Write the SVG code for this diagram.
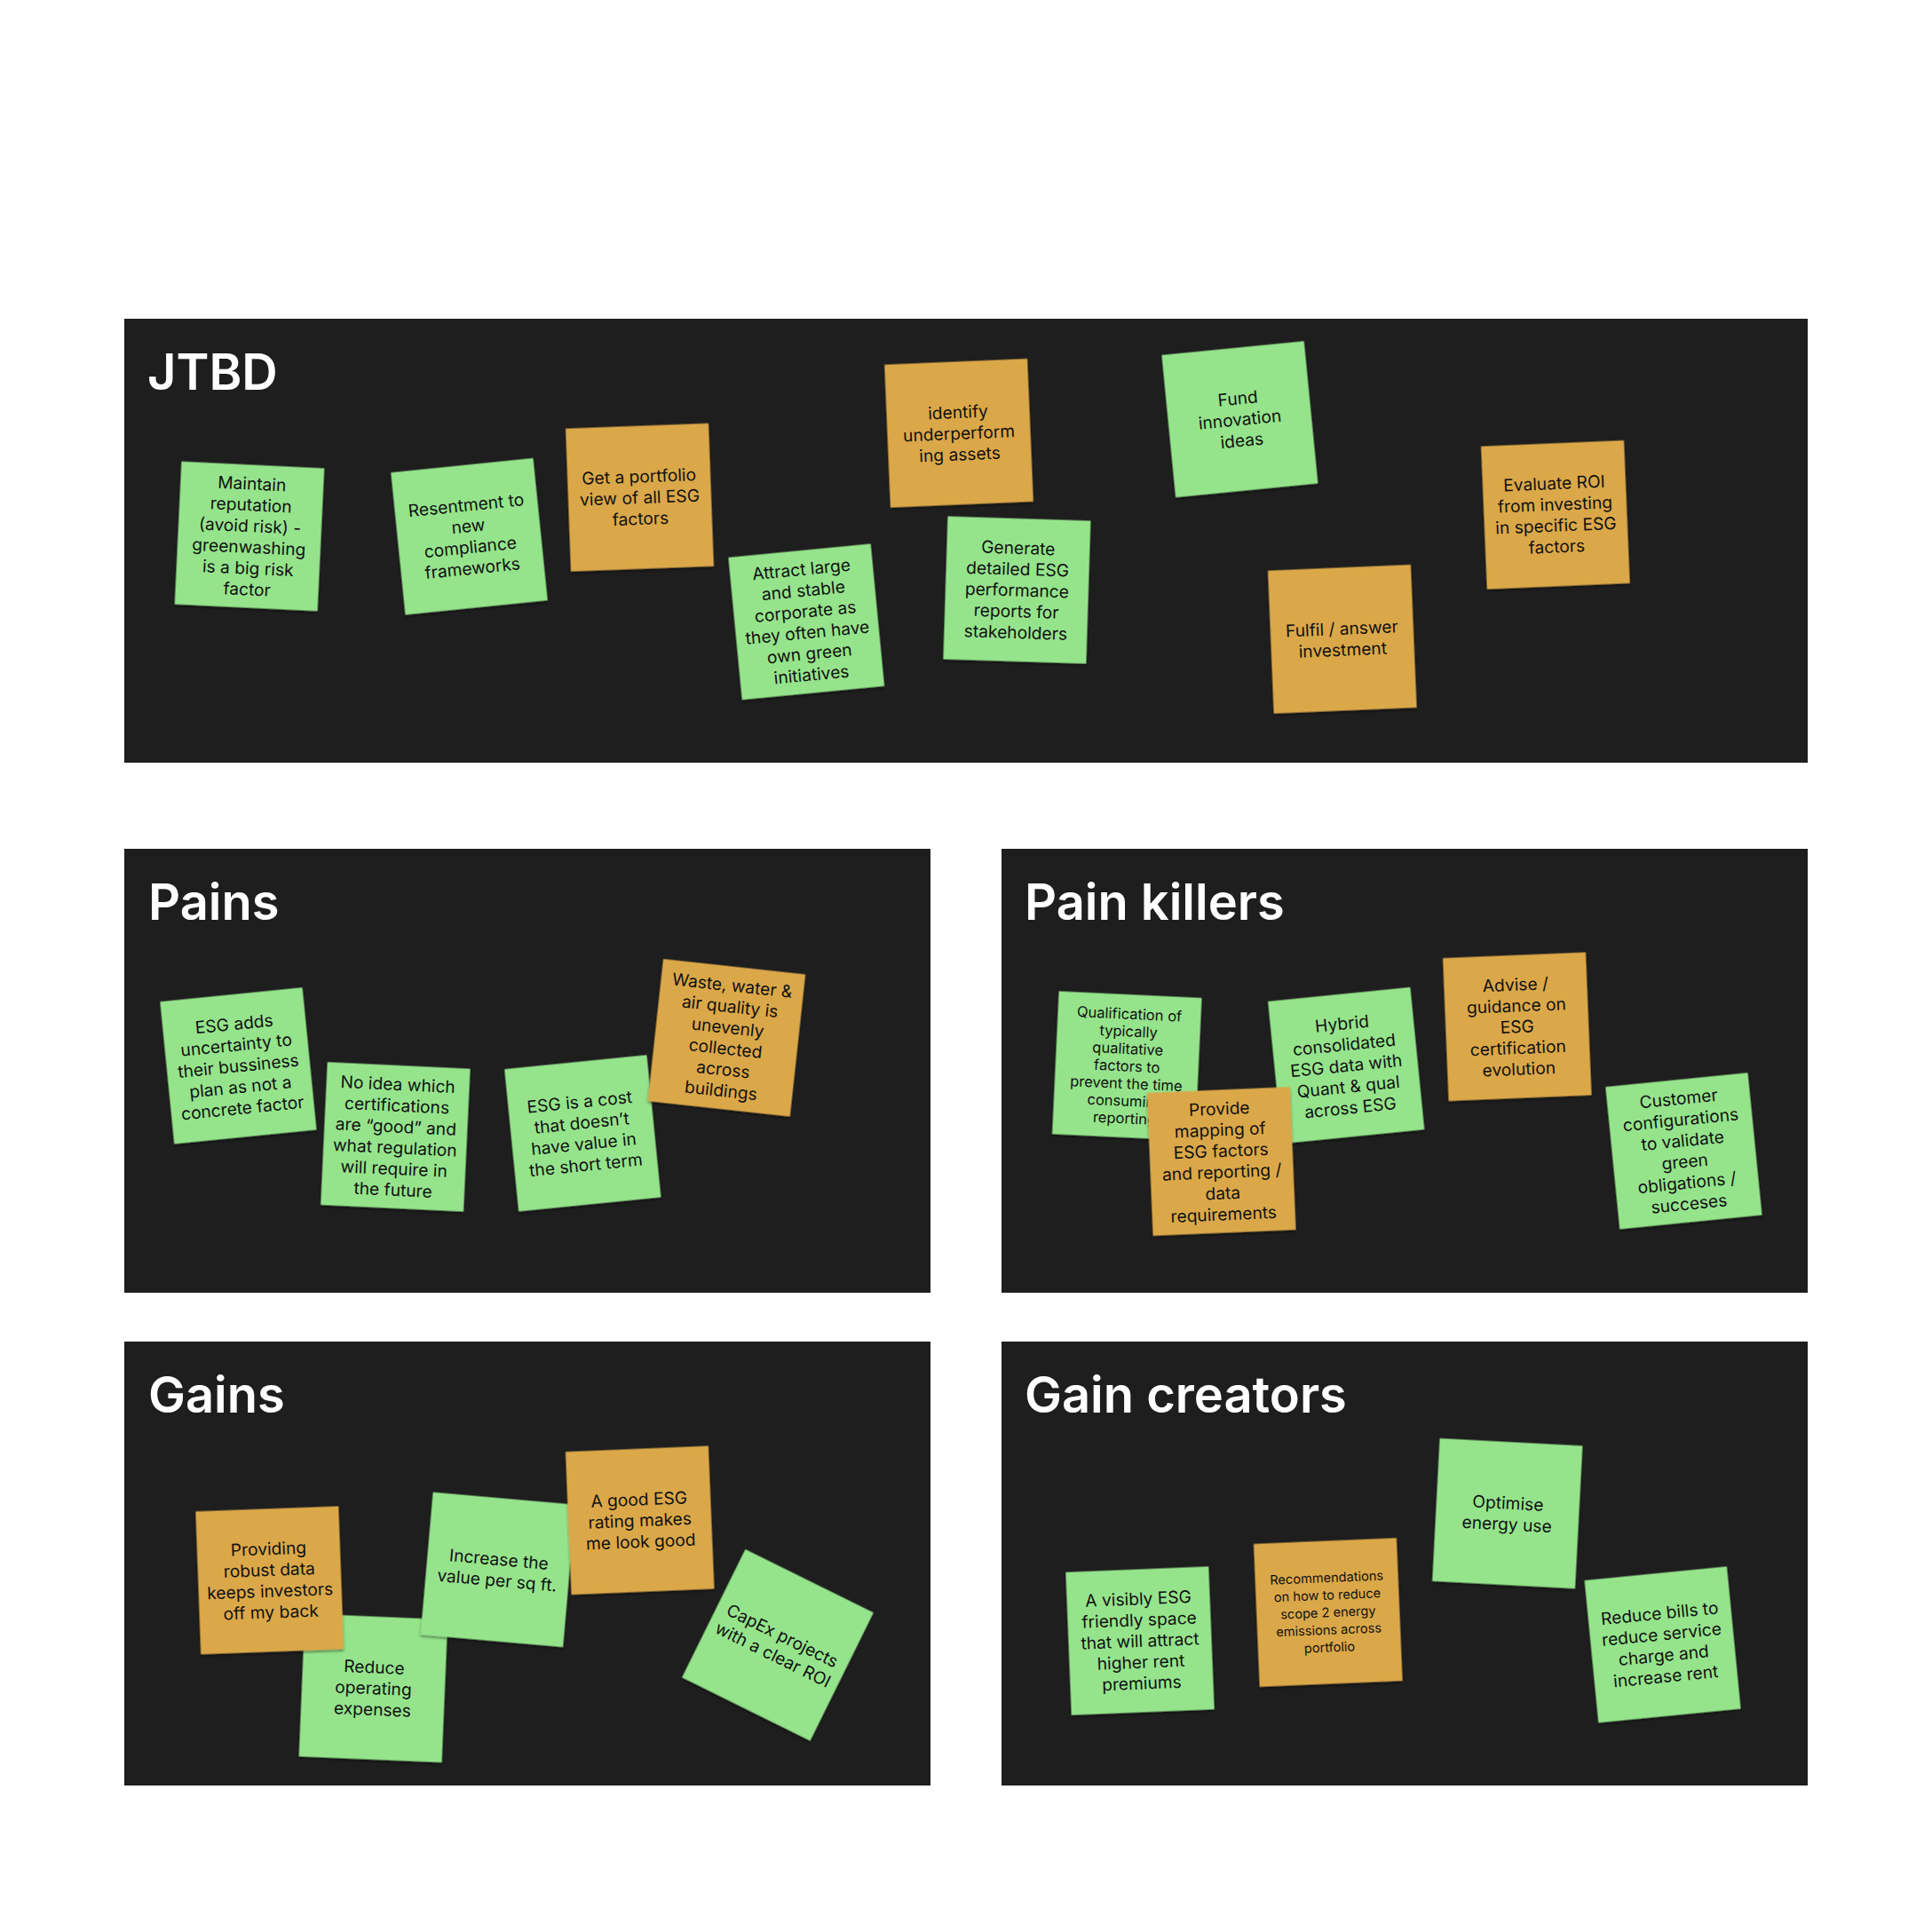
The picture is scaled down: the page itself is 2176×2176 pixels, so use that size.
<svg xmlns="http://www.w3.org/2000/svg" width="2176" height="2176" viewBox="0 0 2176 2176">
<defs>
<style>
.bg{fill:#ffffff}
.panel{fill:#1e1e1e}
.title{font-family:Inter,"Liberation Sans",sans-serif;font-weight:600;font-size:56px;fill:#ffffff}
.g{fill:#95e48c}
.o{fill:#dba84a}
.note rect{filter:url(#sh)}
.t{font-family:Inter,"Liberation Sans",sans-serif;font-size:19.2px;fill:#111111;text-anchor:middle}
.sm{font-size:16.5px}
.xs{font-size:14.6px}
</style>
<filter id="sh" x="-10%" y="-10%" width="120%" height="125%">
<feDropShadow dx="0" dy="2" stdDeviation="1.5" flood-color="#000000" flood-opacity="0.45"/>
</filter>
</defs>
<rect class="bg" x="0" y="0" width="2176" height="2176"/>

<g id="panel-jtbd"><rect class="panel" x="140" y="359" width="1896" height="500"/><text class="title" x="166" y="439">JTBD</text></g>
<g id="panel-pains"><rect class="panel" x="140" y="956" width="908" height="500"/><text class="title" x="167" y="1036">Pains</text></g>
<g id="panel-painkillers"><rect class="panel" x="1128" y="956" width="908" height="500"/><text class="title" x="1154" y="1036">Pain killers</text></g>
<g id="panel-gains"><rect class="panel" x="140" y="1511" width="908" height="500"/><text class="title" x="167" y="1591">Gains</text></g>
<g id="panel-gaincreators"><rect class="panel" x="1128" y="1511" width="908" height="500"/><text class="title" x="1154" y="1591">Gain creators</text></g>

<g id="connectors"></g>

<!-- JTBD -->
<g id="note-maintain" class="note" transform="translate(281,604) rotate(2.75)"><rect class="g" x="-80.5" y="-80.5" width="161" height="161"/><text class="t"><tspan x="0" y="-52.5">Maintain</tspan><tspan x="0" y="-28.7">reputation</tspan><tspan x="0" y="-4.9">(avoid risk) -</tspan><tspan x="0" y="18.9">greenwashing</tspan><tspan x="0" y="42.7">is a big risk</tspan><tspan x="0" y="66.5">factor</tspan></text></g>
<g id="note-resentment" class="note" transform="translate(528.5,604.2) rotate(-5.8)"><rect class="g" x="-80.5" y="-80.5" width="161" height="161"/><text class="t"><tspan x="0" y="-28.7">Resentment to</tspan><tspan x="0" y="-4.9">new</tspan><tspan x="0" y="18.9">compliance</tspan><tspan x="0" y="42.7">frameworks</tspan></text></g>
<g id="note-portfolio" class="note" transform="translate(720.5,560.2) rotate(-2.1)"><rect class="o" x="-80.5" y="-80.5" width="161" height="161"/><text class="t"><tspan x="0" y="-16.8">Get a portfolio</tspan><tspan x="0" y="7">view of all ESG</tspan><tspan x="0" y="30.8">factors</tspan></text></g>
<g id="note-identify" class="note" transform="translate(1080,487.8) rotate(-2.4)"><rect class="o" x="-80.5" y="-80.5" width="161" height="161"/><text class="t"><tspan x="0" y="-16.8">identify</tspan><tspan x="0" y="7">underperform</tspan><tspan x="0" y="30.8">ing assets</tspan></text></g>
<g id="note-fund" class="note" transform="translate(1396.4,472.2) rotate(-5.6)"><rect class="g" x="-80.5" y="-80.5" width="161" height="161"/><text class="t"><tspan x="0" y="-16.8">Fund</tspan><tspan x="0" y="7">innovation</tspan><tspan x="0" y="30.8">ideas</tspan></text></g>
<g id="note-attract" class="note" transform="translate(908.2,700.3) rotate(-5.5)"><rect class="g" x="-80.5" y="-80.5" width="161" height="161"/><text class="t"><tspan x="0" y="-52.5">Attract large</tspan><tspan x="0" y="-28.7">and stable</tspan><tspan x="0" y="-4.9">corporate as</tspan><tspan x="0" y="18.9">they often have</tspan><tspan x="0" y="42.7">own green</tspan><tspan x="0" y="66.5">initiatives</tspan></text></g>
<g id="note-generate" class="note" transform="translate(1145.4,664.5) rotate(1.8)"><rect class="g" x="-80.5" y="-80.5" width="161" height="161"/><text class="t"><tspan x="0" y="-40.6">Generate</tspan><tspan x="0" y="-16.8">detailed ESG</tspan><tspan x="0" y="7">performance</tspan><tspan x="0" y="30.8">reports for</tspan><tspan x="0" y="54.6">stakeholders</tspan></text></g>
<g id="note-evaluate" class="note" transform="translate(1751.9,579.8) rotate(-2.4)"><rect class="o" x="-80.5" y="-80.5" width="161" height="161"/><text class="t"><tspan x="0" y="-28.7">Evaluate ROI</tspan><tspan x="0" y="-4.9">from investing</tspan><tspan x="0" y="18.9">in specific ESG</tspan><tspan x="0" y="42.7">factors</tspan></text></g>
<g id="note-fulfil" class="note" transform="translate(1511.8,719.8) rotate(-2.4)"><rect class="o" x="-80.5" y="-80.5" width="161" height="161"/><text class="t"><tspan x="0" y="-4.9">Fulfil / answer</tspan><tspan x="0" y="18.9">investment</tspan></text></g>

<!-- Pains -->
<g id="note-esg-adds" class="note" transform="translate(268.4,1200.3) rotate(-5.7)"><rect class="g" x="-80.5" y="-80.5" width="161" height="161"/><text class="t"><tspan x="0" y="-40.6">ESG adds</tspan><tspan x="0" y="-16.8">uncertainty to</tspan><tspan x="0" y="7">their bussiness</tspan><tspan x="0" y="30.8">plan as not a</tspan><tspan x="0" y="54.6">concrete factor</tspan></text></g>
<g id="note-no-idea" class="note" transform="translate(445.4,1280.4) rotate(2.7)"><rect class="g" x="-80.5" y="-80.5" width="161" height="161"/><text class="t"><tspan x="0" y="-52.5">No idea which</tspan><tspan x="0" y="-28.7">certifications</tspan><tspan x="0" y="-4.9">are “good” and</tspan><tspan x="0" y="18.9">what regulation</tspan><tspan x="0" y="42.7">will require in</tspan><tspan x="0" y="66.5">the future</tspan></text></g>
<g id="note-cost" class="note" transform="translate(656.3,1276.3) rotate(-5.7)"><rect class="g" x="-80.5" y="-80.5" width="161" height="161"/><text class="t"><tspan x="0" y="-28.7">ESG is a cost</tspan><tspan x="0" y="-4.9">that doesn’t</tspan><tspan x="0" y="18.9">have value in</tspan><tspan x="0" y="42.7">the short term</tspan></text></g>
<g id="note-waste" class="note" transform="translate(818.4,1168.8) rotate(6.2)"><rect class="o" x="-80.5" y="-80.5" width="161" height="161"/><text class="t"><tspan x="0" y="-52.5">Waste, water &amp;</tspan><tspan x="0" y="-28.7">air quality is</tspan><tspan x="0" y="-4.9">unevenly</tspan><tspan x="0" y="18.9">collected</tspan><tspan x="0" y="42.7">across</tspan><tspan x="0" y="66.5">buildings</tspan></text></g>

<!-- Pain killers -->
<g id="note-qualification" class="note" transform="translate(1269.3,1200.6) rotate(2.7)"><rect class="g" x="-80.5" y="-80.5" width="161" height="161"/><text class="t sm"><tspan x="0" y="-52.8">Qualification of</tspan><tspan x="0" y="-33.2">typically</tspan><tspan x="0" y="-13.6">qualitative</tspan><tspan x="0" y="6">factors to</tspan><tspan x="0" y="25.6">prevent the time</tspan><tspan x="0" y="45.2">consuming</tspan><tspan x="0" y="64.8">reporting</tspan></text></g>
<g id="note-hybrid" class="note" transform="translate(1516.2,1200) rotate(-5.7)"><rect class="g" x="-80.5" y="-80.5" width="161" height="161"/><text class="t"><tspan x="0" y="-40.6">Hybrid</tspan><tspan x="0" y="-16.8">consolidated</tspan><tspan x="0" y="7">ESG data with</tspan><tspan x="0" y="30.8">Quant &amp; qual</tspan><tspan x="0" y="54.6">across ESG</tspan></text></g>
<g id="note-mapping" class="note" transform="translate(1375.7,1308) rotate(-2.4)"><rect class="o" x="-80.5" y="-80.5" width="161" height="161"/><text class="t"><tspan x="0" y="-52.5">Provide</tspan><tspan x="0" y="-28.7">mapping of</tspan><tspan x="0" y="-4.9">ESG factors</tspan><tspan x="0" y="18.9">and reporting /</tspan><tspan x="0" y="42.7">data</tspan><tspan x="0" y="66.5">requirements</tspan></text></g>
<g id="note-advise" class="note" transform="translate(1708.8,1156.3) rotate(-2.35)"><rect class="o" x="-80.5" y="-80.5" width="161" height="161"/><text class="t"><tspan x="0" y="-40.6">Advise /</tspan><tspan x="0" y="-16.8">guidance on</tspan><tspan x="0" y="7">ESG</tspan><tspan x="0" y="30.8">certification</tspan><tspan x="0" y="54.6">evolution</tspan></text></g>
<g id="note-customer" class="note" transform="translate(1896.4,1296.3) rotate(-5.7)"><rect class="g" x="-80.5" y="-80.5" width="161" height="161"/><text class="t"><tspan x="0" y="-52.5">Customer</tspan><tspan x="0" y="-28.7">configurations</tspan><tspan x="0" y="-4.9">to validate</tspan><tspan x="0" y="18.9">green</tspan><tspan x="0" y="42.7">obligations /</tspan><tspan x="0" y="66.5">succeses</tspan></text></g>

<!-- Gains -->
<g id="note-reduce-opex" class="note" transform="translate(420.5,1901.2) rotate(2.4)"><rect class="g" x="-80.5" y="-80.5" width="161" height="161"/><text class="t"><tspan x="0" y="-16.8">Reduce</tspan><tspan x="0" y="7">operating</tspan><tspan x="0" y="30.8">expenses</tspan></text></g>
<g id="note-providing" class="note" transform="translate(303.75,1779.85) rotate(-2.1)"><rect class="o" x="-80.5" y="-80.5" width="161" height="161"/><text class="t"><tspan x="0" y="-28.7">Providing</tspan><tspan x="0" y="-4.9">robust data</tspan><tspan x="0" y="18.9">keeps investors</tspan><tspan x="0" y="42.7">off my back</tspan></text></g>
<g id="note-increase" class="note" transform="translate(560.9,1767.9) rotate(5)"><rect class="g" x="-80.5" y="-80.5" width="161" height="161"/><text class="t"><tspan x="0" y="-4.9">Increase the</tspan><tspan x="0" y="18.9">value per sq ft.</tspan></text></g>
<g id="note-good-rating" class="note" transform="translate(720.7,1712.3) rotate(-2.35)"><rect class="o" x="-80.5" y="-80.5" width="161" height="161"/><text class="t"><tspan x="0" y="-16.8">A good ESG</tspan><tspan x="0" y="7">rating makes</tspan><tspan x="0" y="30.8">me look good</tspan></text></g>
<g id="note-capex" class="note" transform="translate(876,1852.8) rotate(26.3)"><rect class="g" x="-80.5" y="-80.5" width="161" height="161"/><text class="t"><tspan x="0" y="-4.9">CapEx projects</tspan><tspan x="0" y="18.9">with a clear ROI</tspan></text></g>

<!-- Gain creators -->
<g id="note-visibly" class="note" transform="translate(1284,1848) rotate(-2.3)"><rect class="g" x="-80.5" y="-80.5" width="161" height="161"/><text class="t"><tspan x="0" y="-40.6">A visibly ESG</tspan><tspan x="0" y="-16.8">friendly space</tspan><tspan x="0" y="7">that will attract</tspan><tspan x="0" y="30.8">higher rent</tspan><tspan x="0" y="54.6">premiums</tspan></text></g>
<g id="note-recommendations" class="note" transform="translate(1495.8,1816) rotate(-2.4)"><rect class="o" x="-80.5" y="-80.5" width="161" height="161"/><text class="t xs"><tspan x="0" y="-33.9">Recommendations</tspan><tspan x="0" y="-14.3">on how to reduce</tspan><tspan x="0" y="5.3">scope 2 energy</tspan><tspan x="0" y="24.9">emissions across</tspan><tspan x="0" y="44.5">portfolio</tspan></text></g>
<g id="note-optimise" class="note" transform="translate(1697.8,1704.6) rotate(3)"><rect class="g" x="-80.5" y="-80.5" width="161" height="161"/><text class="t"><tspan x="0" y="-4.9">Optimise</tspan><tspan x="0" y="18.9">energy use</tspan></text></g>
<g id="note-reduce-bills" class="note" transform="translate(1872.6,1852.3) rotate(-5.6)"><rect class="g" x="-80.5" y="-80.5" width="161" height="161"/><text class="t"><tspan x="0" y="-28.7">Reduce bills to</tspan><tspan x="0" y="-4.9">reduce service</tspan><tspan x="0" y="18.9">charge and</tspan><tspan x="0" y="42.7">increase rent</tspan></text></g>
</svg>
